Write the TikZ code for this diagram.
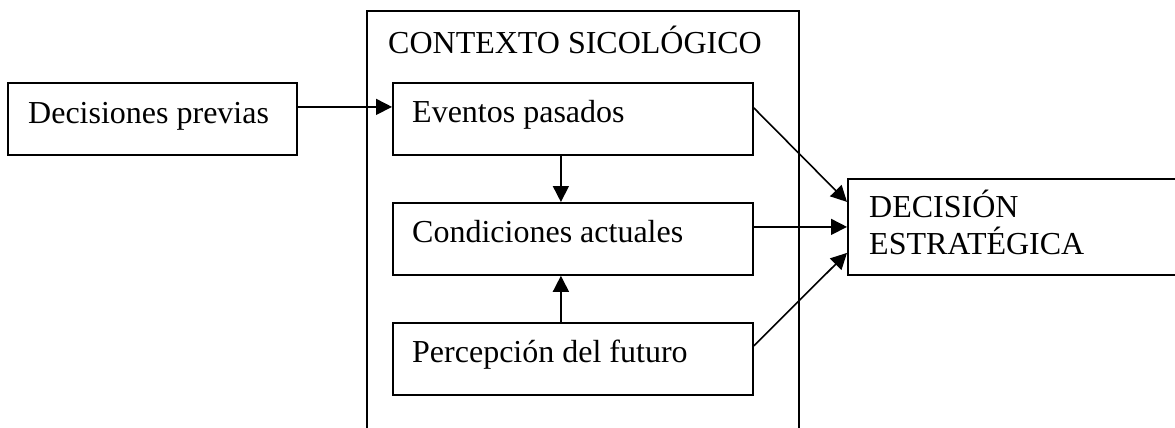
\documentclass[tikz,border=0pt]{standalone}
\usepackage{fontspec}
\setmainfont{Liberation Serif}
\usetikzlibrary{arrows.meta}
\begin{document}
\begin{tikzpicture}[x=1pt,y=-1pt,
  box/.style={draw,line width=1.8pt,inner sep=0pt,anchor=north west},
  txt/.style={anchor=base west,inner sep=0pt,font=\fontsize{32}{37}\selectfont},
  arr/.style={line width=1.6pt,-{Triangle[length=16pt,width=16pt]}}]
\useasboundingbox (0,0) rectangle (1175,428);
\clip (0,0) rectangle (1175,428);
% outer frame
\coordinate (fbl) at (367,440);
\coordinate (fbr) at (799,440);
\coordinate (ftl) at (367,11);
\coordinate (ftr) at (799,11);
\draw[line width=1.8pt] (fbl) -- (ftl) -- (ftr) -- (fbr);
\node[txt] (ctx) at (388,53) {CONTEXTO SICOLÓGICO};
% boxes
\node[box,minimum width=289pt,minimum height=72pt] (dp) at (7,82) {};
\node[txt] (dpt) at (28,123) {Decisiones previas};
\node[box,minimum width=360pt,minimum height=72pt] (ev) at (392,82) {};
\node[txt] (evt) at (412,122) {Eventos pasados};
\node[box,minimum width=360pt,minimum height=72pt] (ca) at (392,202) {};
\node[txt] (cat) at (412,242) {Condiciones actuales};
\node[box,minimum width=360pt,minimum height=72pt] (pf) at (392,322) {};
\node[txt] (pft) at (412,362) {Percepción del futuro};
\node[box,minimum width=345pt,minimum height=96pt] (de) at (847,178) {};
\node[txt] (det1) at (869,217) {DECISIÓN};
\node[txt] (det2) at (869,254) {ESTRATÉGICA};
% arrows
\draw[arr] ([yshift=12pt]dp.east) -- ([yshift=12pt]ev.west);
\draw[arr] ([xshift=-12pt]ev.south) -- ([xshift=-12pt]ca.north);
\draw[arr] ([xshift=-12pt]pf.north) -- ([xshift=-12pt]ca.south);
\draw[arr] ([yshift=11pt]ev.east) -- ([yshift=25pt]de.west);
\draw[arr] ([yshift=12pt]ca.east) -- (de.west);
\draw[arr] ([yshift=13pt]pf.east) -- ([yshift=-26pt]de.west);
\end{tikzpicture}
\end{document}
